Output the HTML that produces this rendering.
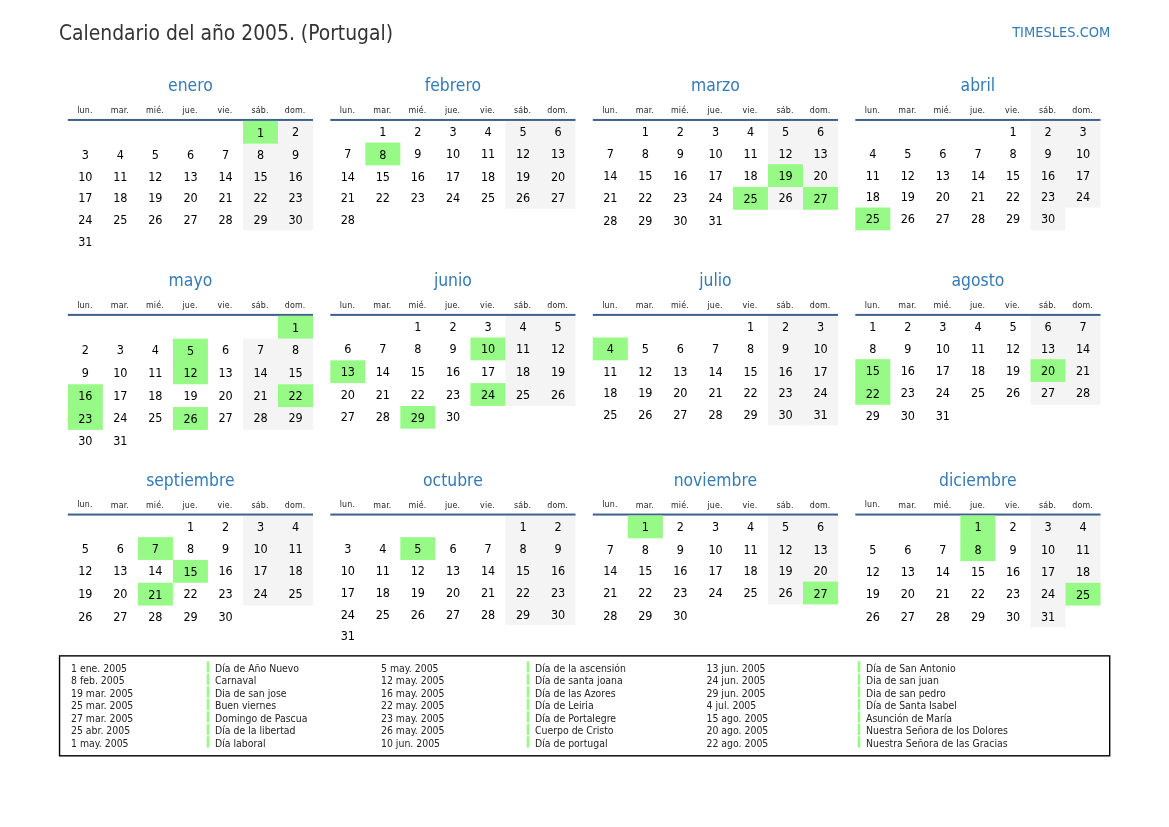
<!DOCTYPE html>
<html lang="es"><head><meta charset="utf-8"><title>Calendario del año 2005. (Portugal)</title>
<style>
html,body{margin:0;padding:0;background:#fff}
body{width:1169px;height:827px;position:relative;overflow:hidden;font-family:"DejaVu Sans Condensed","DejaVu Sans","Liberation Sans",sans-serif;font-stretch:condensed;color:#000}
#bg{position:absolute;left:0;top:0}
#tx{position:absolute;left:0;top:0;width:1169px;height:827px;will-change:transform}
h1,h2,p,span,b,i{position:absolute;margin:0;padding:0;font-weight:normal;font-style:normal;white-space:nowrap;line-height:30px}
h1{color:#333;font-size:20.83px}
.brand{color:#337ab7;font-size:14.5px}
h2{color:#337ab7;font-size:17.36px;text-align:center;width:245.21px}
i{color:#222;font-size:8.8px;text-align:center;width:35.03px;letter-spacing:.15px}
b{font-size:12.5px;text-align:center;width:35.03px;letter-spacing:-0.15px}
p{font-size:10.4px;color:#222}
</style></head><body>
<svg id="bg" width="1169" height="827" viewBox="0 0 1169 827">
<rect x="276.98" y="120.9" width="36.03" height="23.8" fill="#f4f4f4"/>
<rect x="242.95" y="143.7" width="35.03" height="22.65" fill="#f4f4f4"/>
<rect x="276.98" y="143.7" width="36.03" height="22.65" fill="#f4f4f4"/>
<rect x="242.95" y="165.35" width="35.03" height="22.65" fill="#f4f4f4"/>
<rect x="276.98" y="165.35" width="36.03" height="22.65" fill="#f4f4f4"/>
<rect x="242.95" y="187" width="35.03" height="22.65" fill="#f4f4f4"/>
<rect x="276.98" y="187" width="36.03" height="22.65" fill="#f4f4f4"/>
<rect x="242.95" y="208.65" width="35.03" height="21.65" fill="#f4f4f4"/>
<rect x="276.98" y="208.65" width="36.03" height="21.65" fill="#f4f4f4"/>
<rect x="505.45" y="120.9" width="35.03" height="22.65" fill="#f4f4f4"/>
<rect x="539.48" y="120.9" width="36.03" height="22.65" fill="#f4f4f4"/>
<rect x="505.45" y="142.55" width="35.03" height="23.8" fill="#f4f4f4"/>
<rect x="539.48" y="142.55" width="36.03" height="23.8" fill="#f4f4f4"/>
<rect x="505.45" y="165.35" width="35.03" height="22.65" fill="#f4f4f4"/>
<rect x="539.48" y="165.35" width="36.03" height="22.65" fill="#f4f4f4"/>
<rect x="505.45" y="187" width="35.03" height="21.65" fill="#f4f4f4"/>
<rect x="539.48" y="187" width="36.03" height="21.65" fill="#f4f4f4"/>
<rect x="767.95" y="120.9" width="35.03" height="22.65" fill="#f4f4f4"/>
<rect x="801.98" y="120.9" width="36.03" height="22.65" fill="#f4f4f4"/>
<rect x="767.95" y="142.55" width="35.03" height="22.65" fill="#f4f4f4"/>
<rect x="801.98" y="142.55" width="36.03" height="22.65" fill="#f4f4f4"/>
<rect x="801.98" y="164.2" width="36.03" height="23.8" fill="#f4f4f4"/>
<rect x="767.95" y="187" width="35.03" height="22.8" fill="#f4f4f4"/>
<rect x="1030.45" y="120.9" width="35.03" height="22.65" fill="#f4f4f4"/>
<rect x="1064.48" y="120.9" width="36.03" height="22.65" fill="#f4f4f4"/>
<rect x="1030.45" y="142.55" width="35.03" height="22.65" fill="#f4f4f4"/>
<rect x="1064.48" y="142.55" width="36.03" height="22.65" fill="#f4f4f4"/>
<rect x="1030.45" y="164.2" width="35.03" height="22.65" fill="#f4f4f4"/>
<rect x="1064.48" y="164.2" width="36.03" height="22.65" fill="#f4f4f4"/>
<rect x="1030.45" y="185.85" width="35.03" height="22.65" fill="#f4f4f4"/>
<rect x="1064.48" y="185.85" width="36.03" height="21.65" fill="#f4f4f4"/>
<rect x="1030.45" y="207.5" width="35.03" height="22.8" fill="#f4f4f4"/>
<rect x="242.95" y="338.65" width="35.03" height="23.8" fill="#f4f4f4"/>
<rect x="276.98" y="338.65" width="36.03" height="23.8" fill="#f4f4f4"/>
<rect x="242.95" y="361.45" width="35.03" height="23.8" fill="#f4f4f4"/>
<rect x="276.98" y="361.45" width="36.03" height="23.8" fill="#f4f4f4"/>
<rect x="242.95" y="384.25" width="35.03" height="23.8" fill="#f4f4f4"/>
<rect x="242.95" y="407.05" width="35.03" height="22.8" fill="#f4f4f4"/>
<rect x="276.98" y="407.05" width="36.03" height="22.8" fill="#f4f4f4"/>
<rect x="505.45" y="315.85" width="35.03" height="22.65" fill="#f4f4f4"/>
<rect x="539.48" y="315.85" width="36.03" height="22.65" fill="#f4f4f4"/>
<rect x="505.45" y="337.5" width="35.03" height="23.8" fill="#f4f4f4"/>
<rect x="539.48" y="337.5" width="36.03" height="23.8" fill="#f4f4f4"/>
<rect x="505.45" y="360.3" width="35.03" height="23.8" fill="#f4f4f4"/>
<rect x="539.48" y="360.3" width="36.03" height="23.8" fill="#f4f4f4"/>
<rect x="505.45" y="383.1" width="35.03" height="22.8" fill="#f4f4f4"/>
<rect x="539.48" y="383.1" width="36.03" height="22.8" fill="#f4f4f4"/>
<rect x="767.95" y="315.85" width="35.03" height="22.65" fill="#f4f4f4"/>
<rect x="801.98" y="315.85" width="36.03" height="22.65" fill="#f4f4f4"/>
<rect x="767.95" y="337.5" width="35.03" height="23.8" fill="#f4f4f4"/>
<rect x="801.98" y="337.5" width="36.03" height="23.8" fill="#f4f4f4"/>
<rect x="767.95" y="360.3" width="35.03" height="22.65" fill="#f4f4f4"/>
<rect x="801.98" y="360.3" width="36.03" height="22.65" fill="#f4f4f4"/>
<rect x="767.95" y="381.95" width="35.03" height="22.65" fill="#f4f4f4"/>
<rect x="801.98" y="381.95" width="36.03" height="22.65" fill="#f4f4f4"/>
<rect x="767.95" y="403.6" width="35.03" height="21.65" fill="#f4f4f4"/>
<rect x="801.98" y="403.6" width="36.03" height="21.65" fill="#f4f4f4"/>
<rect x="1030.45" y="315.85" width="35.03" height="22.65" fill="#f4f4f4"/>
<rect x="1064.48" y="315.85" width="36.03" height="22.65" fill="#f4f4f4"/>
<rect x="1030.45" y="337.5" width="35.03" height="22.65" fill="#f4f4f4"/>
<rect x="1064.48" y="337.5" width="36.03" height="22.65" fill="#f4f4f4"/>
<rect x="1064.48" y="359.15" width="36.03" height="23.8" fill="#f4f4f4"/>
<rect x="1030.45" y="381.95" width="35.03" height="22.8" fill="#f4f4f4"/>
<rect x="1064.48" y="381.95" width="36.03" height="22.8" fill="#f4f4f4"/>
<rect x="242.95" y="515.5" width="35.03" height="22.65" fill="#f4f4f4"/>
<rect x="276.98" y="515.5" width="36.03" height="22.65" fill="#f4f4f4"/>
<rect x="242.95" y="537.15" width="35.03" height="23.8" fill="#f4f4f4"/>
<rect x="276.98" y="537.15" width="36.03" height="23.8" fill="#f4f4f4"/>
<rect x="242.95" y="559.95" width="35.03" height="23.8" fill="#f4f4f4"/>
<rect x="276.98" y="559.95" width="36.03" height="23.8" fill="#f4f4f4"/>
<rect x="242.95" y="582.75" width="35.03" height="22.8" fill="#f4f4f4"/>
<rect x="276.98" y="582.75" width="36.03" height="22.8" fill="#f4f4f4"/>
<rect x="505.45" y="515.5" width="35.03" height="22.65" fill="#f4f4f4"/>
<rect x="539.48" y="515.5" width="36.03" height="22.65" fill="#f4f4f4"/>
<rect x="505.45" y="537.15" width="35.03" height="23.8" fill="#f4f4f4"/>
<rect x="539.48" y="537.15" width="36.03" height="23.8" fill="#f4f4f4"/>
<rect x="505.45" y="559.95" width="35.03" height="22.65" fill="#f4f4f4"/>
<rect x="539.48" y="559.95" width="36.03" height="22.65" fill="#f4f4f4"/>
<rect x="505.45" y="581.6" width="35.03" height="22.65" fill="#f4f4f4"/>
<rect x="539.48" y="581.6" width="36.03" height="22.65" fill="#f4f4f4"/>
<rect x="505.45" y="603.25" width="35.03" height="21.65" fill="#f4f4f4"/>
<rect x="539.48" y="603.25" width="36.03" height="21.65" fill="#f4f4f4"/>
<rect x="767.95" y="515.5" width="35.03" height="23.8" fill="#f4f4f4"/>
<rect x="801.98" y="515.5" width="36.03" height="23.8" fill="#f4f4f4"/>
<rect x="767.95" y="538.3" width="35.03" height="22.65" fill="#f4f4f4"/>
<rect x="801.98" y="538.3" width="36.03" height="22.65" fill="#f4f4f4"/>
<rect x="767.95" y="559.95" width="35.03" height="22.65" fill="#f4f4f4"/>
<rect x="801.98" y="559.95" width="36.03" height="22.65" fill="#f4f4f4"/>
<rect x="767.95" y="581.6" width="35.03" height="22.8" fill="#f4f4f4"/>
<rect x="1030.45" y="515.5" width="35.03" height="23.8" fill="#f4f4f4"/>
<rect x="1064.48" y="515.5" width="36.03" height="23.8" fill="#f4f4f4"/>
<rect x="1030.45" y="538.3" width="35.03" height="23.8" fill="#f4f4f4"/>
<rect x="1064.48" y="538.3" width="36.03" height="23.8" fill="#f4f4f4"/>
<rect x="1030.45" y="561.1" width="35.03" height="22.65" fill="#f4f4f4"/>
<rect x="1064.48" y="561.1" width="36.03" height="22.65" fill="#f4f4f4"/>
<rect x="1030.45" y="582.75" width="35.03" height="23.8" fill="#f4f4f4"/>
<rect x="1030.45" y="605.55" width="35.03" height="21.65" fill="#f4f4f4"/>
<rect x="67.8" y="118.95" width="245.21" height="2" fill="#40608c"/>
<rect x="242.95" y="120.9" width="35.03" height="22.8" fill="#98fa86"/>
<rect x="330.3" y="118.95" width="245.21" height="2" fill="#40608c"/>
<rect x="365.33" y="142.55" width="35.03" height="22.8" fill="#98fa86"/>
<rect x="592.8" y="118.95" width="245.21" height="2" fill="#40608c"/>
<rect x="767.95" y="164.2" width="35.03" height="22.8" fill="#98fa86"/>
<rect x="732.92" y="187" width="35.03" height="22.8" fill="#98fa86"/>
<rect x="802.98" y="187" width="35.03" height="22.8" fill="#98fa86"/>
<rect x="855.3" y="118.95" width="245.21" height="2" fill="#40608c"/>
<rect x="855.3" y="207.5" width="35.03" height="22.8" fill="#98fa86"/>
<rect x="67.8" y="313.9" width="245.21" height="2" fill="#40608c"/>
<rect x="277.98" y="315.85" width="35.03" height="22.8" fill="#98fa86"/>
<rect x="172.89" y="338.65" width="35.03" height="23.8" fill="#98fa86"/>
<rect x="172.89" y="361.45" width="35.03" height="22.8" fill="#98fa86"/>
<rect x="67.8" y="384.25" width="35.03" height="23.8" fill="#98fa86"/>
<rect x="277.98" y="384.25" width="35.03" height="22.8" fill="#98fa86"/>
<rect x="67.8" y="407.05" width="35.03" height="22.8" fill="#98fa86"/>
<rect x="172.89" y="407.05" width="35.03" height="22.8" fill="#98fa86"/>
<rect x="330.3" y="313.9" width="245.21" height="2" fill="#40608c"/>
<rect x="470.42" y="337.5" width="35.03" height="22.8" fill="#98fa86"/>
<rect x="330.3" y="360.3" width="35.03" height="22.8" fill="#98fa86"/>
<rect x="470.42" y="383.1" width="35.03" height="22.8" fill="#98fa86"/>
<rect x="400.36" y="405.9" width="35.03" height="22.8" fill="#98fa86"/>
<rect x="592.8" y="313.9" width="245.21" height="2" fill="#40608c"/>
<rect x="592.8" y="337.5" width="35.03" height="22.8" fill="#98fa86"/>
<rect x="855.3" y="313.9" width="245.21" height="2" fill="#40608c"/>
<rect x="855.3" y="359.15" width="35.03" height="23.8" fill="#98fa86"/>
<rect x="1030.45" y="359.15" width="35.03" height="22.8" fill="#98fa86"/>
<rect x="855.3" y="381.95" width="35.03" height="22.8" fill="#98fa86"/>
<rect x="67.8" y="513.55" width="245.21" height="2" fill="#40608c"/>
<rect x="137.86" y="537.15" width="35.03" height="22.8" fill="#98fa86"/>
<rect x="172.89" y="559.95" width="35.03" height="22.8" fill="#98fa86"/>
<rect x="137.86" y="582.75" width="35.03" height="22.8" fill="#98fa86"/>
<rect x="330.3" y="513.55" width="245.21" height="2" fill="#40608c"/>
<rect x="400.36" y="537.15" width="35.03" height="22.8" fill="#98fa86"/>
<rect x="592.8" y="513.55" width="245.21" height="2" fill="#40608c"/>
<rect x="627.83" y="515.5" width="35.03" height="22.8" fill="#98fa86"/>
<rect x="802.98" y="581.6" width="35.03" height="22.8" fill="#98fa86"/>
<rect x="855.3" y="513.55" width="245.21" height="2" fill="#40608c"/>
<rect x="960.39" y="515.5" width="35.03" height="23.8" fill="#98fa86"/>
<rect x="960.39" y="538.3" width="35.03" height="22.8" fill="#98fa86"/>
<rect x="1065.48" y="582.75" width="35.03" height="22.8" fill="#98fa86"/>
<rect x="59.55" y="655.87" width="1050.15" height="99.95" fill="none" stroke="#000" stroke-width="1.4"/>
<rect x="206.7" y="661.3" width="2.6" height="11.2" fill="#98fa86"/>
<rect x="206.7" y="673.8" width="2.6" height="11.2" fill="#98fa86"/>
<rect x="206.7" y="686.3" width="2.6" height="11.2" fill="#98fa86"/>
<rect x="206.7" y="698.8" width="2.6" height="11.2" fill="#98fa86"/>
<rect x="206.7" y="711.3" width="2.6" height="11.2" fill="#98fa86"/>
<rect x="206.7" y="723.8" width="2.6" height="11.2" fill="#98fa86"/>
<rect x="206.7" y="736.3" width="2.6" height="11.2" fill="#98fa86"/>
<rect x="526.7" y="661.3" width="2.6" height="11.2" fill="#98fa86"/>
<rect x="526.7" y="673.8" width="2.6" height="11.2" fill="#98fa86"/>
<rect x="526.7" y="686.3" width="2.6" height="11.2" fill="#98fa86"/>
<rect x="526.7" y="698.8" width="2.6" height="11.2" fill="#98fa86"/>
<rect x="526.7" y="711.3" width="2.6" height="11.2" fill="#98fa86"/>
<rect x="526.7" y="723.8" width="2.6" height="11.2" fill="#98fa86"/>
<rect x="526.7" y="736.3" width="2.6" height="11.2" fill="#98fa86"/>
<rect x="857.7" y="661.3" width="2.6" height="11.2" fill="#98fa86"/>
<rect x="857.7" y="673.8" width="2.6" height="11.2" fill="#98fa86"/>
<rect x="857.7" y="686.3" width="2.6" height="11.2" fill="#98fa86"/>
<rect x="857.7" y="698.8" width="2.6" height="11.2" fill="#98fa86"/>
<rect x="857.7" y="711.3" width="2.6" height="11.2" fill="#98fa86"/>
<rect x="857.7" y="723.8" width="2.6" height="11.2" fill="#98fa86"/>
<rect x="857.7" y="736.3" width="2.6" height="11.2" fill="#98fa86"/>
</svg>
<div id="tx">
<h1 style="left:59px;top:18px">Calendario del año 2005. (Portugal)</h1>
<span class="brand" style="right:58.7px;top:17px">TIMESLES.COM</span>
<h2 style="left:67.8px;top:70px">enero</h2>
<i style="left:67.4px;top:95px">lun.</i>
<i style="left:102.43px;top:95px">mar.</i>
<i style="left:137.46px;top:95px">mié.</i>
<i style="left:172.49px;top:95px">jue.</i>
<i style="left:207.52px;top:95px">vie.</i>
<i style="left:242.55px;top:95px">sáb.</i>
<i style="left:277.58px;top:95px">dom.</i>
<b style="left:242.95px;top:118px">1</b>
<b style="left:277.98px;top:117px">2</b>
<b style="left:67.8px;top:140px">3</b>
<b style="left:102.83px;top:140px">4</b>
<b style="left:137.86px;top:140px">5</b>
<b style="left:172.89px;top:140px">6</b>
<b style="left:207.92px;top:140px">7</b>
<b style="left:242.95px;top:140px">8</b>
<b style="left:277.98px;top:140px">9</b>
<b style="left:67.8px;top:162px">10</b>
<b style="left:102.83px;top:162px">11</b>
<b style="left:137.86px;top:162px">12</b>
<b style="left:172.89px;top:162px">13</b>
<b style="left:207.92px;top:162px">14</b>
<b style="left:242.95px;top:162px">15</b>
<b style="left:277.98px;top:162px">16</b>
<b style="left:67.8px;top:183px">17</b>
<b style="left:102.83px;top:183px">18</b>
<b style="left:137.86px;top:183px">19</b>
<b style="left:172.89px;top:183px">20</b>
<b style="left:207.92px;top:183px">21</b>
<b style="left:242.95px;top:183px">22</b>
<b style="left:277.98px;top:183px">23</b>
<b style="left:67.8px;top:205px">24</b>
<b style="left:102.83px;top:205px">25</b>
<b style="left:137.86px;top:205px">26</b>
<b style="left:172.89px;top:205px">27</b>
<b style="left:207.92px;top:205px">28</b>
<b style="left:242.95px;top:205px">29</b>
<b style="left:277.98px;top:205px">30</b>
<b style="left:67.8px;top:227px">31</b>
<h2 style="left:330.3px;top:70px">febrero</h2>
<i style="left:329.9px;top:95px">lun.</i>
<i style="left:364.93px;top:95px">mar.</i>
<i style="left:399.96px;top:95px">mié.</i>
<i style="left:434.99px;top:95px">jue.</i>
<i style="left:470.02px;top:95px">vie.</i>
<i style="left:505.05px;top:95px">sáb.</i>
<i style="left:540.08px;top:95px">dom.</i>
<b style="left:365.33px;top:117px">1</b>
<b style="left:400.36px;top:117px">2</b>
<b style="left:435.39px;top:117px">3</b>
<b style="left:470.42px;top:117px">4</b>
<b style="left:505.45px;top:117px">5</b>
<b style="left:540.48px;top:117px">6</b>
<b style="left:330.3px;top:139px">7</b>
<b style="left:365.33px;top:140px">8</b>
<b style="left:400.36px;top:139px">9</b>
<b style="left:435.39px;top:139px">10</b>
<b style="left:470.42px;top:139px">11</b>
<b style="left:505.45px;top:139px">12</b>
<b style="left:540.48px;top:139px">13</b>
<b style="left:330.3px;top:162px">14</b>
<b style="left:365.33px;top:162px">15</b>
<b style="left:400.36px;top:162px">16</b>
<b style="left:435.39px;top:162px">17</b>
<b style="left:470.42px;top:162px">18</b>
<b style="left:505.45px;top:162px">19</b>
<b style="left:540.48px;top:162px">20</b>
<b style="left:330.3px;top:183px">21</b>
<b style="left:365.33px;top:183px">22</b>
<b style="left:400.36px;top:183px">23</b>
<b style="left:435.39px;top:183px">24</b>
<b style="left:470.42px;top:183px">25</b>
<b style="left:505.45px;top:183px">26</b>
<b style="left:540.48px;top:183px">27</b>
<b style="left:330.3px;top:205px">28</b>
<h2 style="left:592.8px;top:70px">marzo</h2>
<i style="left:592.4px;top:95px">lun.</i>
<i style="left:627.43px;top:95px">mar.</i>
<i style="left:662.46px;top:95px">mié.</i>
<i style="left:697.49px;top:95px">jue.</i>
<i style="left:732.52px;top:95px">vie.</i>
<i style="left:767.55px;top:95px">sáb.</i>
<i style="left:802.58px;top:95px">dom.</i>
<b style="left:627.83px;top:117px">1</b>
<b style="left:662.86px;top:117px">2</b>
<b style="left:697.89px;top:117px">3</b>
<b style="left:732.92px;top:117px">4</b>
<b style="left:767.95px;top:117px">5</b>
<b style="left:802.98px;top:117px">6</b>
<b style="left:592.8px;top:139px">7</b>
<b style="left:627.83px;top:139px">8</b>
<b style="left:662.86px;top:139px">9</b>
<b style="left:697.89px;top:139px">10</b>
<b style="left:732.92px;top:139px">11</b>
<b style="left:767.95px;top:139px">12</b>
<b style="left:802.98px;top:139px">13</b>
<b style="left:592.8px;top:161px">14</b>
<b style="left:627.83px;top:161px">15</b>
<b style="left:662.86px;top:161px">16</b>
<b style="left:697.89px;top:161px">17</b>
<b style="left:732.92px;top:161px">18</b>
<b style="left:767.95px;top:161px">19</b>
<b style="left:802.98px;top:161px">20</b>
<b style="left:592.8px;top:183px">21</b>
<b style="left:627.83px;top:183px">22</b>
<b style="left:662.86px;top:183px">23</b>
<b style="left:697.89px;top:183px">24</b>
<b style="left:732.92px;top:184px">25</b>
<b style="left:767.95px;top:183px">26</b>
<b style="left:802.98px;top:184px">27</b>
<b style="left:592.8px;top:206px">28</b>
<b style="left:627.83px;top:206px">29</b>
<b style="left:662.86px;top:206px">30</b>
<b style="left:697.89px;top:206px">31</b>
<h2 style="left:855.3px;top:70px">abril</h2>
<i style="left:854.9px;top:95px">lun.</i>
<i style="left:889.93px;top:95px">mar.</i>
<i style="left:924.96px;top:95px">mié.</i>
<i style="left:959.99px;top:95px">jue.</i>
<i style="left:995.02px;top:95px">vie.</i>
<i style="left:1030.05px;top:95px">sáb.</i>
<i style="left:1065.08px;top:95px">dom.</i>
<b style="left:995.42px;top:117px">1</b>
<b style="left:1030.45px;top:117px">2</b>
<b style="left:1065.48px;top:117px">3</b>
<b style="left:855.3px;top:139px">4</b>
<b style="left:890.33px;top:139px">5</b>
<b style="left:925.36px;top:139px">6</b>
<b style="left:960.39px;top:139px">7</b>
<b style="left:995.42px;top:139px">8</b>
<b style="left:1030.45px;top:139px">9</b>
<b style="left:1065.48px;top:139px">10</b>
<b style="left:855.3px;top:161px">11</b>
<b style="left:890.33px;top:161px">12</b>
<b style="left:925.36px;top:161px">13</b>
<b style="left:960.39px;top:161px">14</b>
<b style="left:995.42px;top:161px">15</b>
<b style="left:1030.45px;top:161px">16</b>
<b style="left:1065.48px;top:161px">17</b>
<b style="left:855.3px;top:182px">18</b>
<b style="left:890.33px;top:182px">19</b>
<b style="left:925.36px;top:182px">20</b>
<b style="left:960.39px;top:182px">21</b>
<b style="left:995.42px;top:182px">22</b>
<b style="left:1030.45px;top:182px">23</b>
<b style="left:1065.48px;top:182px">24</b>
<b style="left:855.3px;top:204px">25</b>
<b style="left:890.33px;top:204px">26</b>
<b style="left:925.36px;top:204px">27</b>
<b style="left:960.39px;top:204px">28</b>
<b style="left:995.42px;top:204px">29</b>
<b style="left:1030.45px;top:204px">30</b>
<h2 style="left:67.8px;top:265px">mayo</h2>
<i style="left:67.4px;top:290px">lun.</i>
<i style="left:102.43px;top:290px">mar.</i>
<i style="left:137.46px;top:290px">mié.</i>
<i style="left:172.49px;top:290px">jue.</i>
<i style="left:207.52px;top:290px">vie.</i>
<i style="left:242.55px;top:290px">sáb.</i>
<i style="left:277.58px;top:290px">dom.</i>
<b style="left:277.98px;top:313px">1</b>
<b style="left:67.8px;top:335px">2</b>
<b style="left:102.83px;top:335px">3</b>
<b style="left:137.86px;top:335px">4</b>
<b style="left:172.89px;top:336px">5</b>
<b style="left:207.92px;top:335px">6</b>
<b style="left:242.95px;top:335px">7</b>
<b style="left:277.98px;top:335px">8</b>
<b style="left:67.8px;top:358px">9</b>
<b style="left:102.83px;top:358px">10</b>
<b style="left:137.86px;top:358px">11</b>
<b style="left:172.89px;top:358px">12</b>
<b style="left:207.92px;top:358px">13</b>
<b style="left:242.95px;top:358px">14</b>
<b style="left:277.98px;top:358px">15</b>
<b style="left:67.8px;top:381px">16</b>
<b style="left:102.83px;top:381px">17</b>
<b style="left:137.86px;top:381px">18</b>
<b style="left:172.89px;top:381px">19</b>
<b style="left:207.92px;top:381px">20</b>
<b style="left:242.95px;top:381px">21</b>
<b style="left:277.98px;top:381px">22</b>
<b style="left:67.8px;top:404px">23</b>
<b style="left:102.83px;top:403px">24</b>
<b style="left:137.86px;top:403px">25</b>
<b style="left:172.89px;top:404px">26</b>
<b style="left:207.92px;top:403px">27</b>
<b style="left:242.95px;top:403px">28</b>
<b style="left:277.98px;top:403px">29</b>
<b style="left:67.8px;top:426px">30</b>
<b style="left:102.83px;top:426px">31</b>
<h2 style="left:330.3px;top:265px">junio</h2>
<i style="left:329.9px;top:290px">lun.</i>
<i style="left:364.93px;top:290px">mar.</i>
<i style="left:399.96px;top:290px">mié.</i>
<i style="left:434.99px;top:290px">jue.</i>
<i style="left:470.02px;top:290px">vie.</i>
<i style="left:505.05px;top:290px">sáb.</i>
<i style="left:540.08px;top:290px">dom.</i>
<b style="left:400.36px;top:312px">1</b>
<b style="left:435.39px;top:312px">2</b>
<b style="left:470.42px;top:312px">3</b>
<b style="left:505.45px;top:312px">4</b>
<b style="left:540.48px;top:312px">5</b>
<b style="left:330.3px;top:334px">6</b>
<b style="left:365.33px;top:334px">7</b>
<b style="left:400.36px;top:334px">8</b>
<b style="left:435.39px;top:334px">9</b>
<b style="left:470.42px;top:334px">10</b>
<b style="left:505.45px;top:334px">11</b>
<b style="left:540.48px;top:334px">12</b>
<b style="left:330.3px;top:357px">13</b>
<b style="left:365.33px;top:357px">14</b>
<b style="left:400.36px;top:357px">15</b>
<b style="left:435.39px;top:357px">16</b>
<b style="left:470.42px;top:357px">17</b>
<b style="left:505.45px;top:357px">18</b>
<b style="left:540.48px;top:357px">19</b>
<b style="left:330.3px;top:380px">20</b>
<b style="left:365.33px;top:380px">21</b>
<b style="left:400.36px;top:380px">22</b>
<b style="left:435.39px;top:380px">23</b>
<b style="left:470.42px;top:380px">24</b>
<b style="left:505.45px;top:380px">25</b>
<b style="left:540.48px;top:380px">26</b>
<b style="left:330.3px;top:402px">27</b>
<b style="left:365.33px;top:402px">28</b>
<b style="left:400.36px;top:403px">29</b>
<b style="left:435.39px;top:402px">30</b>
<h2 style="left:592.8px;top:265px">julio</h2>
<i style="left:592.4px;top:290px">lun.</i>
<i style="left:627.43px;top:290px">mar.</i>
<i style="left:662.46px;top:290px">mié.</i>
<i style="left:697.49px;top:290px">jue.</i>
<i style="left:732.52px;top:290px">vie.</i>
<i style="left:767.55px;top:290px">sáb.</i>
<i style="left:802.58px;top:290px">dom.</i>
<b style="left:732.92px;top:312px">1</b>
<b style="left:767.95px;top:312px">2</b>
<b style="left:802.98px;top:312px">3</b>
<b style="left:592.8px;top:334px">4</b>
<b style="left:627.83px;top:334px">5</b>
<b style="left:662.86px;top:334px">6</b>
<b style="left:697.89px;top:334px">7</b>
<b style="left:732.92px;top:334px">8</b>
<b style="left:767.95px;top:334px">9</b>
<b style="left:802.98px;top:334px">10</b>
<b style="left:592.8px;top:357px">11</b>
<b style="left:627.83px;top:357px">12</b>
<b style="left:662.86px;top:357px">13</b>
<b style="left:697.89px;top:357px">14</b>
<b style="left:732.92px;top:357px">15</b>
<b style="left:767.95px;top:357px">16</b>
<b style="left:802.98px;top:357px">17</b>
<b style="left:592.8px;top:378px">18</b>
<b style="left:627.83px;top:378px">19</b>
<b style="left:662.86px;top:378px">20</b>
<b style="left:697.89px;top:378px">21</b>
<b style="left:732.92px;top:378px">22</b>
<b style="left:767.95px;top:378px">23</b>
<b style="left:802.98px;top:378px">24</b>
<b style="left:592.8px;top:400px">25</b>
<b style="left:627.83px;top:400px">26</b>
<b style="left:662.86px;top:400px">27</b>
<b style="left:697.89px;top:400px">28</b>
<b style="left:732.92px;top:400px">29</b>
<b style="left:767.95px;top:400px">30</b>
<b style="left:802.98px;top:400px">31</b>
<h2 style="left:855.3px;top:265px">agosto</h2>
<i style="left:854.9px;top:290px">lun.</i>
<i style="left:889.93px;top:290px">mar.</i>
<i style="left:924.96px;top:290px">mié.</i>
<i style="left:959.99px;top:290px">jue.</i>
<i style="left:995.02px;top:290px">vie.</i>
<i style="left:1030.05px;top:290px">sáb.</i>
<i style="left:1065.08px;top:290px">dom.</i>
<b style="left:855.3px;top:312px">1</b>
<b style="left:890.33px;top:312px">2</b>
<b style="left:925.36px;top:312px">3</b>
<b style="left:960.39px;top:312px">4</b>
<b style="left:995.42px;top:312px">5</b>
<b style="left:1030.45px;top:312px">6</b>
<b style="left:1065.48px;top:312px">7</b>
<b style="left:855.3px;top:334px">8</b>
<b style="left:890.33px;top:334px">9</b>
<b style="left:925.36px;top:334px">10</b>
<b style="left:960.39px;top:334px">11</b>
<b style="left:995.42px;top:334px">12</b>
<b style="left:1030.45px;top:334px">13</b>
<b style="left:1065.48px;top:334px">14</b>
<b style="left:855.3px;top:356px">15</b>
<b style="left:890.33px;top:356px">16</b>
<b style="left:925.36px;top:356px">17</b>
<b style="left:960.39px;top:356px">18</b>
<b style="left:995.42px;top:356px">19</b>
<b style="left:1030.45px;top:356px">20</b>
<b style="left:1065.48px;top:356px">21</b>
<b style="left:855.3px;top:379px">22</b>
<b style="left:890.33px;top:378px">23</b>
<b style="left:925.36px;top:378px">24</b>
<b style="left:960.39px;top:378px">25</b>
<b style="left:995.42px;top:378px">26</b>
<b style="left:1030.45px;top:378px">27</b>
<b style="left:1065.48px;top:378px">28</b>
<b style="left:855.3px;top:401px">29</b>
<b style="left:890.33px;top:401px">30</b>
<b style="left:925.36px;top:401px">31</b>
<h2 style="left:67.8px;top:465px">septiembre</h2>
<i style="left:67.4px;top:489px">lun.</i>
<i style="left:102.43px;top:490px">mar.</i>
<i style="left:137.46px;top:490px">mié.</i>
<i style="left:172.49px;top:490px">jue.</i>
<i style="left:207.52px;top:490px">vie.</i>
<i style="left:242.55px;top:490px">sáb.</i>
<i style="left:277.58px;top:490px">dom.</i>
<b style="left:172.89px;top:512px">1</b>
<b style="left:207.92px;top:512px">2</b>
<b style="left:242.95px;top:512px">3</b>
<b style="left:277.98px;top:512px">4</b>
<b style="left:67.8px;top:534px">5</b>
<b style="left:102.83px;top:534px">6</b>
<b style="left:137.86px;top:534px">7</b>
<b style="left:172.89px;top:534px">8</b>
<b style="left:207.92px;top:534px">9</b>
<b style="left:242.95px;top:534px">10</b>
<b style="left:277.98px;top:534px">11</b>
<b style="left:67.8px;top:556px">12</b>
<b style="left:102.83px;top:556px">13</b>
<b style="left:137.86px;top:556px">14</b>
<b style="left:172.89px;top:557px">15</b>
<b style="left:207.92px;top:556px">16</b>
<b style="left:242.95px;top:556px">17</b>
<b style="left:277.98px;top:556px">18</b>
<b style="left:67.8px;top:579px">19</b>
<b style="left:102.83px;top:579px">20</b>
<b style="left:137.86px;top:580px">21</b>
<b style="left:172.89px;top:579px">22</b>
<b style="left:207.92px;top:579px">23</b>
<b style="left:242.95px;top:579px">24</b>
<b style="left:277.98px;top:579px">25</b>
<b style="left:67.8px;top:602px">26</b>
<b style="left:102.83px;top:602px">27</b>
<b style="left:137.86px;top:602px">28</b>
<b style="left:172.89px;top:602px">29</b>
<b style="left:207.92px;top:602px">30</b>
<h2 style="left:330.3px;top:465px">octubre</h2>
<i style="left:329.9px;top:489px">lun.</i>
<i style="left:364.93px;top:490px">mar.</i>
<i style="left:399.96px;top:490px">mié.</i>
<i style="left:434.99px;top:490px">jue.</i>
<i style="left:470.02px;top:490px">vie.</i>
<i style="left:505.05px;top:490px">sáb.</i>
<i style="left:540.08px;top:490px">dom.</i>
<b style="left:505.45px;top:512px">1</b>
<b style="left:540.48px;top:512px">2</b>
<b style="left:330.3px;top:534px">3</b>
<b style="left:365.33px;top:534px">4</b>
<b style="left:400.36px;top:534px">5</b>
<b style="left:435.39px;top:534px">6</b>
<b style="left:470.42px;top:534px">7</b>
<b style="left:505.45px;top:534px">8</b>
<b style="left:540.48px;top:534px">9</b>
<b style="left:330.3px;top:556px">10</b>
<b style="left:365.33px;top:556px">11</b>
<b style="left:400.36px;top:556px">12</b>
<b style="left:435.39px;top:556px">13</b>
<b style="left:470.42px;top:556px">14</b>
<b style="left:505.45px;top:556px">15</b>
<b style="left:540.48px;top:556px">16</b>
<b style="left:330.3px;top:578px">17</b>
<b style="left:365.33px;top:578px">18</b>
<b style="left:400.36px;top:578px">19</b>
<b style="left:435.39px;top:578px">20</b>
<b style="left:470.42px;top:578px">21</b>
<b style="left:505.45px;top:578px">22</b>
<b style="left:540.48px;top:578px">23</b>
<b style="left:330.3px;top:600px">24</b>
<b style="left:365.33px;top:600px">25</b>
<b style="left:400.36px;top:600px">26</b>
<b style="left:435.39px;top:600px">27</b>
<b style="left:470.42px;top:600px">28</b>
<b style="left:505.45px;top:600px">29</b>
<b style="left:540.48px;top:600px">30</b>
<b style="left:330.3px;top:621px">31</b>
<h2 style="left:592.8px;top:465px">noviembre</h2>
<i style="left:592.4px;top:489px">lun.</i>
<i style="left:627.43px;top:490px">mar.</i>
<i style="left:662.46px;top:490px">mié.</i>
<i style="left:697.49px;top:490px">jue.</i>
<i style="left:732.52px;top:490px">vie.</i>
<i style="left:767.55px;top:490px">sáb.</i>
<i style="left:802.58px;top:490px">dom.</i>
<b style="left:627.83px;top:512px">1</b>
<b style="left:662.86px;top:512px">2</b>
<b style="left:697.89px;top:512px">3</b>
<b style="left:732.92px;top:512px">4</b>
<b style="left:767.95px;top:512px">5</b>
<b style="left:802.98px;top:512px">6</b>
<b style="left:592.8px;top:535px">7</b>
<b style="left:627.83px;top:535px">8</b>
<b style="left:662.86px;top:535px">9</b>
<b style="left:697.89px;top:535px">10</b>
<b style="left:732.92px;top:535px">11</b>
<b style="left:767.95px;top:535px">12</b>
<b style="left:802.98px;top:535px">13</b>
<b style="left:592.8px;top:556px">14</b>
<b style="left:627.83px;top:556px">15</b>
<b style="left:662.86px;top:556px">16</b>
<b style="left:697.89px;top:556px">17</b>
<b style="left:732.92px;top:556px">18</b>
<b style="left:767.95px;top:556px">19</b>
<b style="left:802.98px;top:556px">20</b>
<b style="left:592.8px;top:578px">21</b>
<b style="left:627.83px;top:578px">22</b>
<b style="left:662.86px;top:578px">23</b>
<b style="left:697.89px;top:578px">24</b>
<b style="left:732.92px;top:578px">25</b>
<b style="left:767.95px;top:578px">26</b>
<b style="left:802.98px;top:579px">27</b>
<b style="left:592.8px;top:601px">28</b>
<b style="left:627.83px;top:601px">29</b>
<b style="left:662.86px;top:601px">30</b>
<h2 style="left:855.3px;top:465px">diciembre</h2>
<i style="left:854.9px;top:489px">lun.</i>
<i style="left:889.93px;top:490px">mar.</i>
<i style="left:924.96px;top:490px">mié.</i>
<i style="left:959.99px;top:490px">jue.</i>
<i style="left:995.02px;top:490px">vie.</i>
<i style="left:1030.05px;top:490px">sáb.</i>
<i style="left:1065.08px;top:490px">dom.</i>
<b style="left:960.39px;top:512px">1</b>
<b style="left:995.42px;top:512px">2</b>
<b style="left:1030.45px;top:512px">3</b>
<b style="left:1065.48px;top:512px">4</b>
<b style="left:855.3px;top:535px">5</b>
<b style="left:890.33px;top:535px">6</b>
<b style="left:925.36px;top:535px">7</b>
<b style="left:960.39px;top:535px">8</b>
<b style="left:995.42px;top:535px">9</b>
<b style="left:1030.45px;top:535px">10</b>
<b style="left:1065.48px;top:535px">11</b>
<b style="left:855.3px;top:557px">12</b>
<b style="left:890.33px;top:557px">13</b>
<b style="left:925.36px;top:557px">14</b>
<b style="left:960.39px;top:557px">15</b>
<b style="left:995.42px;top:557px">16</b>
<b style="left:1030.45px;top:557px">17</b>
<b style="left:1065.48px;top:557px">18</b>
<b style="left:855.3px;top:579px">19</b>
<b style="left:890.33px;top:579px">20</b>
<b style="left:925.36px;top:579px">21</b>
<b style="left:960.39px;top:579px">22</b>
<b style="left:995.42px;top:579px">23</b>
<b style="left:1030.45px;top:579px">24</b>
<b style="left:1065.48px;top:580px">25</b>
<b style="left:855.3px;top:602px">26</b>
<b style="left:890.33px;top:602px">27</b>
<b style="left:925.36px;top:602px">28</b>
<b style="left:960.39px;top:602px">29</b>
<b style="left:995.42px;top:602px">30</b>
<b style="left:1030.45px;top:602px">31</b>
<p style="left:71px;top:653px">1 ene. 2005</p>
<p style="left:215px;top:653px">Día de Año Nuevo</p>
<p style="left:71px;top:665px">8 feb. 2005</p>
<p style="left:215px;top:665px">Carnaval</p>
<p style="left:71px;top:678px">19 mar. 2005</p>
<p style="left:215px;top:678px">Dia de san jose</p>
<p style="left:71px;top:690px">25 mar. 2005</p>
<p style="left:215px;top:690px">Buen viernes</p>
<p style="left:71px;top:703px">27 mar. 2005</p>
<p style="left:215px;top:703px">Domingo de Pascua</p>
<p style="left:71px;top:715px">25 abr. 2005</p>
<p style="left:215px;top:715px">Día de la libertad</p>
<p style="left:71px;top:728px">1 may. 2005</p>
<p style="left:215px;top:728px">Día laboral</p>
<p style="left:381px;top:653px">5 may. 2005</p>
<p style="left:535px;top:653px">Día de la ascensión</p>
<p style="left:381px;top:665px">12 may. 2005</p>
<p style="left:535px;top:665px">Día de santa joana</p>
<p style="left:381px;top:678px">16 may. 2005</p>
<p style="left:535px;top:678px">Día de las Azores</p>
<p style="left:381px;top:690px">22 may. 2005</p>
<p style="left:535px;top:690px">Día de Leiria</p>
<p style="left:381px;top:703px">23 may. 2005</p>
<p style="left:535px;top:703px">Día de Portalegre</p>
<p style="left:381px;top:715px">26 may. 2005</p>
<p style="left:535px;top:715px">Cuerpo de Cristo</p>
<p style="left:381px;top:728px">10 jun. 2005</p>
<p style="left:535px;top:728px">Día de portugal</p>
<p style="left:706.5px;top:653px">13 jun. 2005</p>
<p style="left:866px;top:653px">Día de San Antonio</p>
<p style="left:706.5px;top:665px">24 jun. 2005</p>
<p style="left:866px;top:665px">Dia de san juan</p>
<p style="left:706.5px;top:678px">29 jun. 2005</p>
<p style="left:866px;top:678px">Dia de san pedro</p>
<p style="left:706.5px;top:690px">4 jul. 2005</p>
<p style="left:866px;top:690px">Día de Santa Isabel</p>
<p style="left:706.5px;top:703px">15 ago. 2005</p>
<p style="left:866px;top:703px">Asunción de María</p>
<p style="left:706.5px;top:715px">20 ago. 2005</p>
<p style="left:866px;top:715px">Nuestra Señora de los Dolores</p>
<p style="left:706.5px;top:728px">22 ago. 2005</p>
<p style="left:866px;top:728px">Nuestra Señora de las Gracias</p>
</div>
</body></html>
